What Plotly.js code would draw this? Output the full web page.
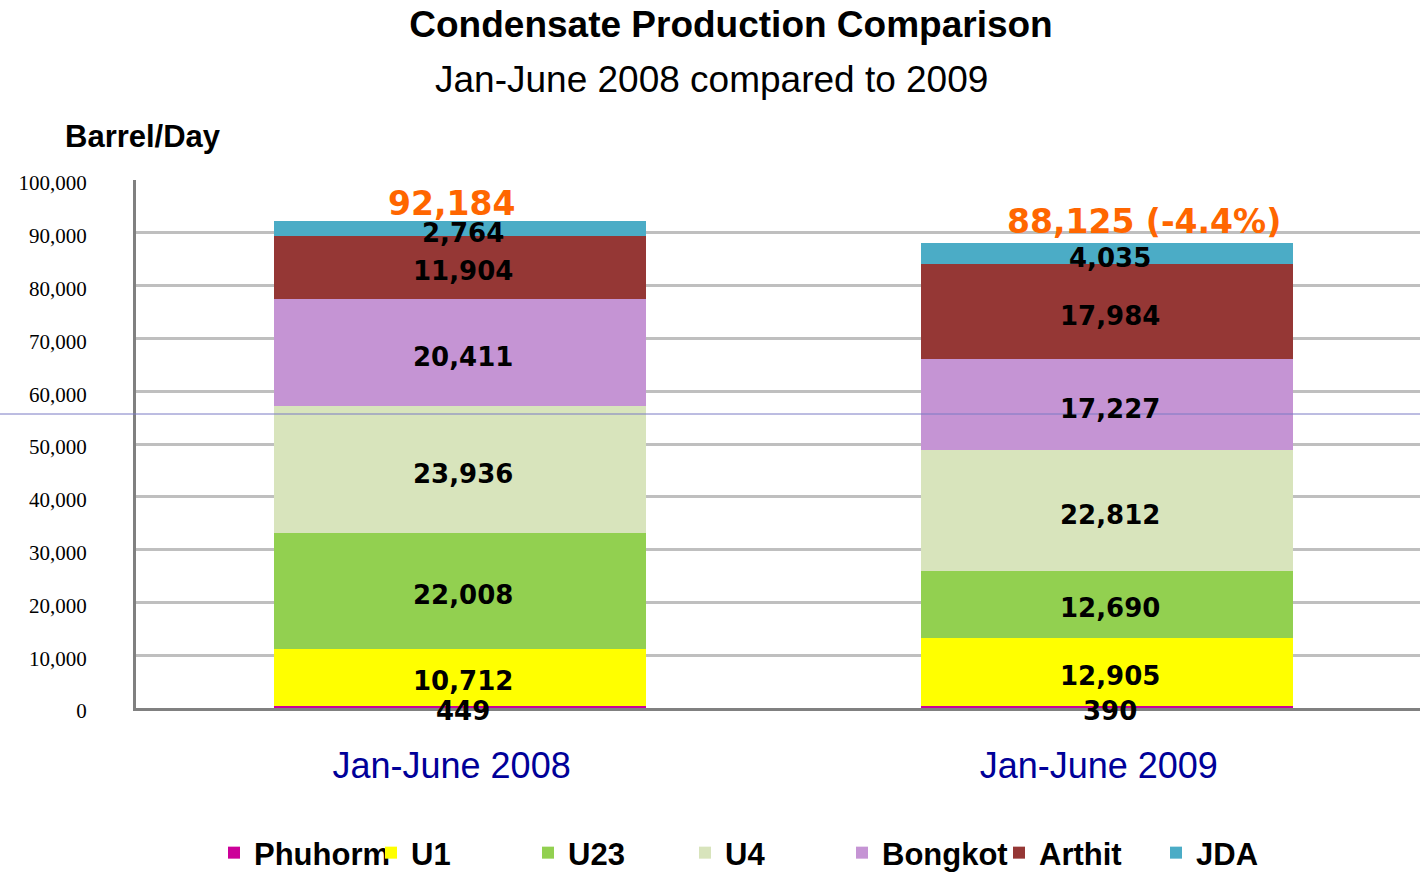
<!DOCTYPE html>
<html>
<head>
<meta charset="utf-8">
<script src="https://cdn.plot.ly/plotly-3.0.1.min.js"></script>
<style>html,body{margin:0;padding:0;background:#fff;}#chart{width:1420px;height:872px;}</style>
</head>
<body>
<div id="chart"></div>
<script>
// ---- data ----
const categories = ['Jan-June 2008', 'Jan-June 2009'];
const seriesNames = ['Phuhorm', 'U1', 'U23', 'U4', 'Bongkot', 'Arthit', 'JDA'];
const phuhorm = [449, 390];
const u1 = [10712, 12905];
const u23 = [22008, 12690];
const u4 = [23936, 22812];
const bongkot = [20411, 17227];
const arthit = [11904, 17984];
const jda = [2764, 4035];
const totalValues = [92184, 88125];
const totalLabels = ['92,184', '88,125 (-4.4%)'];

// ---- styling ----
const colors = ['#CC0099', '#FFFF00', '#92D050', '#D8E4BC', '#C594D4', '#953735', '#4BACC6'];
const seriesValues = [phuhorm, u1, u23, u4, bongkot, arthit, jda];
const fmt = v => v.toLocaleString('en-US');
const pyToPaper = py => (708 - py) / 528;

const traces = seriesValues.map((vals, i) => ({
  type: 'bar',
  name: seriesNames[i],
  x: categories,
  y: vals,
  width: 0.575,
  marker: {color: colors[i], line: {width: 0}},
  hoverinfo: 'skip'
}));

const annotations = [];
categories.forEach((cat, ci) => {
  let base = 0;
  seriesValues.forEach(vals => {
    const v = vals[ci];
    annotations.push({
      x: cat, y: base + v / 2, xref: 'x', yref: 'y',
      text: fmt(v), showarrow: false, yshift: -4, xshift: 3,
      font: {family: 'DejaVu Sans', size: 26, color: '#000000', weight: 'bold'}
    });
    base += v;
  });
});
const totalShift = [-8, 37];
const totalYShift = [-4, 0];
categories.forEach((cat, ci) => {
  annotations.push({
    x: cat, y: totalValues[ci], xref: 'x', yref: 'y',
    text: totalLabels[ci], showarrow: false, yanchor: 'bottom',
    yshift: totalYShift[ci], xshift: totalShift[ci],
    font: {family: 'DejaVu Sans', size: 33, color: '#FF6600', weight: 'bold'}
  });
});
annotations.push({
  xref: 'paper', yref: 'paper', x: (711 - 136) / 1284, y: pyToPaper(80),
  xanchor: 'center', yanchor: 'middle', showarrow: false,
  text: 'Jan-June 2008 compared to 2009',
  font: {family: 'Liberation Sans', size: 37, color: '#000000'}
});
annotations.push({
  xref: 'paper', yref: 'paper', x: (63 - 136) / 1284, y: pyToPaper(137),
  xanchor: 'left', yanchor: 'middle', showarrow: false,
  text: 'Barrel/Day',
  font: {family: 'Liberation Sans', size: 31, color: '#000000', weight: 'bold'}
});

const layout = {
  width: 1420, height: 872,
  paper_bgcolor: '#ffffff', plot_bgcolor: '#ffffff',
  margin: {l: 136, r: 0, t: 180, b: 164},
  barmode: 'stack',
  bargap: 0,
  separators: '.,',
  showlegend: true,
  title: {
    text: 'Condensate Production Comparison',
    x: 731 / 1420, xanchor: 'center', xref: 'container',
    y: 1 - 24 / 872, yanchor: 'middle', yref: 'container',
    font: {family: 'Liberation Sans', size: 37, color: '#000000', weight: 'bold'}
  },
  xaxis: {
    type: 'category',
    range: [-0.5, 1.484],
    showline: true, linecolor: '#808080', linewidth: 3,
    showgrid: false, zeroline: false, ticks: '',
    ticklabelstandoff: 24,
    ticklabelshift: -8,
    tickfont: {family: 'Liberation Sans', size: 36, color: '#000099'}
  },
  yaxis: {
    range: [0, 100000], dtick: 10000, tickformat: ',d',
    showline: true, linecolor: '#808080', linewidth: 3,
    showgrid: true, gridcolor: '#BFBFBF', gridwidth: 3,
    zeroline: false, ticks: '',
    ticklabelstandoff: 42,
    ticklabelshift: 3,
    tickfont: {family: 'Liberation Serif', size: 21, color: '#000000'}
  },
  legend: {
    orientation: 'h', traceorder: 'normal',
    xref: 'container', yref: 'container',
    x: 214 / 1420, xanchor: 'left',
    y: 1 - 853 / 872, yanchor: 'middle',
    entrywidth: 112,
    font: {family: 'Liberation Sans', size: 31, color: '#000000', weight: 'bold'},
    bgcolor: 'rgba(0,0,0,0)'
  },
  shapes: [{
    type: 'line', xref: 'paper', yref: 'paper',
    x0: -136 / 1284, x1: 1, y0: pyToPaper(414), y1: pyToPaper(414),
    line: {color: '#7B7BC4', width: 1}
  }],
  annotations: annotations
};

Plotly.newPlot('chart', traces, layout, {displayModeBar: false, staticPlot: true});
</script>
</body>
</html>
